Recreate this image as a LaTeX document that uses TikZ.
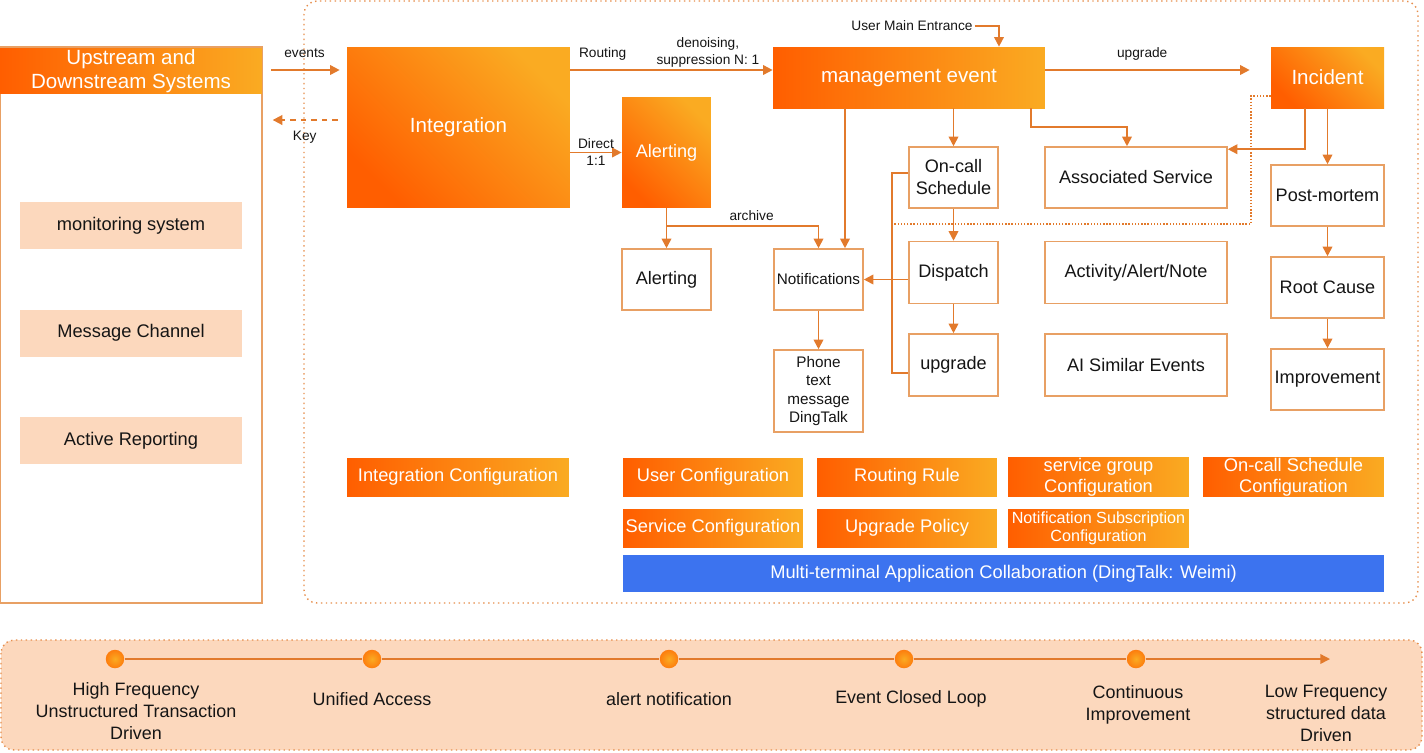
\documentclass[tikz,border=0pt]{standalone}
\usepackage{fontspec}
\setmainfont{Liberation Sans}
\usepackage{tikz}
\usetikzlibrary{arrows.meta, positioning, calc}
\definecolor{hotdark}{HTML}{FF5E00}
\definecolor{hotlight}{HTML}{FAAB22}
\definecolor{linkorange}{HTML}{E27A2C}
\definecolor{edgeorange}{HTML}{E8A064}
\definecolor{peach}{HTML}{FCD8BD}
\definecolor{collabblue}{HTML}{3C73EF}
\definecolor{inkdark}{HTML}{151515}

\begin{document}
\begin{tikzpicture}[
    x=0.02cm, y=-0.02cm,
    hot/.style={
        text=white,
        inner sep=0pt,
        align=center,
        font=\fontsize{11.7}{13.7}\selectfont
    },
    hotdiag/.style={
        hot,
        top color=hotlight,
        bottom color=hotdark,
        shading angle=-45
    },
    hotbar/.style={
        hot,
        left color=hotdark,
        right color=hotlight
    },
    cfg/.style={
        hotbar,
        minimum width=3.6cm,
        minimum height=0.76cm,
        font=\fontsize{10.4}{12}\selectfont
    },
    card/.style={
        draw=edgeorange,
        line width=0.9pt,
        fill=white,
        minimum width=1.78cm,
        minimum height=1.22cm,
        inner sep=1pt,
        align=center,
        text=inkdark,
        font=\fontsize{10.3}{12.5}\selectfont
    },
    feed/.style={
        fill=peach,
        minimum width=4.44cm,
        minimum height=0.94cm,
        text=inkdark,
        font=\fontsize{10.4}{12.5}\selectfont
    },
    lbl/.style={
        inner sep=1pt,
        align=center,
        text=inkdark,
        font=\fontsize{7.8}{9.7}\selectfont
    },
    stage/.style={
        align=center,
        text=inkdark,
        font=\fontsize{10.2}{12.5}\selectfont
    },
    stagedot/.style={
        circle,
        inner sep=0pt,
        minimum size=0.37cm,
        inner color=hotlight,
        outer color=hotdark!60!hotlight
    },
    link/.style={
        draw=linkorange,
        line width=1pt
    },
    arrow/.style={
        link,
        -{Triangle[length=5.5pt, width=5.5pt]}
    },
    zone/.style={
        draw=linkorange!85,
        line width=0.8pt,
        dotted,
        rounded corners=0.26cm
    }
]
\useasboundingbox (0,0) rectangle (1424,752);

% Frames
\draw[zone] (304,1) rectangle (1418,603);
\draw[zone, fill=peach] (1,640) rectangle (1422,750);

% Upstream / downstream column
\node[draw=edgeorange, line width=0.8pt, minimum width=5.24cm, minimum height=11.12cm, inner sep=0pt] (panel) at (131,325) {};
\node[hotbar, minimum width=5.24cm, minimum height=0.9cm] (updown) at (131,71) {Upstream and\\Downstream Systems};
\node[feed] (mon) at (131,225.5) {monitoring system};
\node[feed] (msg) at (131,333) {Message Channel};
\node[feed] (rep) at (131,440.5) {Active Reporting};

% Ingestion
\node[hotdiag, minimum width=4.46cm, minimum height=3.22cm] (integ) at (458.5,127.5) {Integration};
\node[hotdiag, minimum width=1.78cm, minimum height=2.22cm, font=\fontsize{10.3}{12}\selectfont] (alertsrc) at (666.5,152.5) {Alerting};
\node[card] (alertlog) at (666.5,279.5) {Alerting};
\node[card, font=\fontsize{8.7}{10.5}\selectfont] (notif) at (818.5,279.5) {Notifications};
\node[card, minimum height=1.64cm, font=\fontsize{8.7}{10.5}\selectfont] (channels) at (818.5,391) {Phone\\text\\message\\DingTalk};

% Event management
\node[hotbar, minimum width=5.44cm, minimum height=1.22cm] (mgmt) at (909,77.5) {management event};
\node[hotdiag, minimum width=2.26cm, minimum height=1.22cm] (incident) at (1327.5,77.5) {Incident};
\node[card] (oncall) at (953.5,177.5) {On-call\\Schedule};
\node[card, minimum height=1.24cm] (dispatch) at (953.5,272.5) {Dispatch};
\node[card, minimum height=1.24cm] (escal) at (953.5,365) {upgrade};
\node[card, minimum width=3.64cm] (assoc) at (1136,177.5) {Associated Service};
\node[card, minimum width=3.64cm, minimum height=1.24cm] (activity) at (1136,272.5) {Activity/Alert/Note};
\node[card, minimum width=3.64cm, minimum height=1.24cm] (aisim) at (1136,365) {AI Similar Events};

% Incident review
\node[card, minimum width=2.26cm] (postm) at (1327.5,195.5) {Post-mortem};
\node[card, minimum width=2.26cm] (rootc) at (1327.5,287.5) {Root Cause};
\node[card, minimum width=2.26cm] (improve) at (1327.5,379.5) {Improvement};

% Configuration
\node[cfg, minimum width=4.44cm] (cfgint) at (458,477) {Integration Configuration};
\node[cfg] (cfguser) at (713,477) {User Configuration};
\node[cfg] (cfgroute) at (907,477) {Routing Rule};
\node[cfg, minimum width=3.62cm] (cfggroup) at (1098.5,477) {service group\\Configuration};
\node[cfg, minimum width=3.62cm] (cfgsched) at (1293.5,477) {On-call Schedule\\Configuration};
\node[cfg] (cfgsvc) at (713,528) {Service Configuration};
\node[cfg] (cfgpolicy) at (907,528) {Upgrade Policy};
\node[cfg, minimum width=3.62cm, font=\fontsize{9.2}{10.2}\selectfont] (cfgsub) at (1098.5,528) {Notification Subscription\\Configuration};
\node[hot, fill=collabblue, minimum width=15.22cm, minimum height=0.74cm, font=\fontsize{10.4}{12}\selectfont] (collab) at (1003.5,573.5) {Multi-terminal Application Collaboration (DingTalk: Weimi)};

% Timeline
\node[stagedot] (t1) at (115,659) {};
\node[stagedot] (t2) at (372,659) {};
\node[stagedot] (t3) at (669,659) {};
\node[stagedot] (t4) at (904,659) {};
\node[stagedot] (t5) at (1136,659) {};
\coordinate (tend) at (1330,659);
\foreach \a/\b in {t1/t2, t2/t3, t3/t4, t4/t5} {
    \draw[link, line width=0.8pt] (\a) -- (\b);
}
\draw[arrow, line width=0.8pt] (t5) -- (tend);

\node[stage] (s1) at (136,711) {High Frequency\\Unstructured Transaction\\Driven};
\node[stage] (s2) at (372,699) {Unified Access};
\node[stage] (s3) at (669,699) {alert notification};
\node[stage] (s4) at (911,699) {Event Closed Loop};
\node[stage] (s5) at (1138,705) {Continuous\\Improvement};
\node[stage] (s6) at (1326,713) {Low Frequency\\structured data\\Driven};

% Connectors
\coordinate (mgmtin) at ([yshift=0.15cm]mgmt.west);
\coordinate (keyout) at ([yshift=0.15cm]integ.west);
\coordinate (notifin) at ([xshift=0.53cm]notif.north);
\coordinate (brk) at ([xshift=-0.32cm]oncall.west);
\coordinate (brktop) at ([yshift=0.09cm]oncall.west);
\coordinate (fold) at (1251,224);

\draw[arrow, shorten <=0.18cm, shorten >=0.14cm] (updown.east |- mgmtin) -- (integ.west |- mgmtin)
    node[lbl, midway, above=0.19cm] (lblevents) {events};
\draw[arrow, dashed, shorten <=0.18cm, shorten >=0.2cm] (keyout) -- (keyout -| panel.east)
    node[lbl, midway, below=0.16cm] (lblkey) {Key};

\draw[arrow] (integ.east |- mgmtin) -- (mgmtin)
    node[lbl, pos=0.16, above=0.15cm] (lblrouting) {Routing}
    node[lbl, pos=0.68, above=0cm] (lbldenoise) {denoising,\\suppression N: 1};
\draw[arrow] (integ.east |- alertsrc.west) -- (alertsrc.west)
    node[lbl, midway] (lbldirect) {Direct\\1:1};

\draw[arrow] (alertsrc.south) -- (alertlog.north);
\draw[arrow] (alertsrc.south) -- ++(0,18) -| (notif.north)
    node[lbl, pos=0.28, above=0.07cm] (lblarchive) {archive};
\draw[arrow] (notif) -- (channels);

\node[lbl] (entry) at (912,26) {User Main Entrance};
\draw[arrow] (entry.east) -| ([xshift=1.8cm]mgmt.north);

\draw[arrow, shorten >=0.42cm] (mgmt.east |- mgmtin) -- (incident.west |- mgmtin)
    node[lbl, pos=0.43, above=0.15cm] (lblupgrade) {upgrade};
\draw[arrow] (mgmt.south -| notifin) -- (notifin);
\draw[arrow] (mgmt.south -| oncall.north) -- (oncall.north);
\draw[arrow] ([xshift=-0.28cm]mgmt.south east) -- ++(0,19) -| ([xshift=-0.18cm]assoc.north);

\draw[arrow] (oncall) -- (dispatch);
\draw[arrow] (dispatch) -- (escal);
\draw[arrow] (dispatch.west |- notif.east) -- (notif.east);
\draw[link] (brktop) -- (brk |- brktop) |- ([yshift=-0.16cm]escal.west);

\draw[arrow] ([xshift=-0.45cm]incident.south) |- ([yshift=-0.06cm]assoc.north east);
\draw[arrow] (incident.south) -- (postm.north);
\draw[arrow] (postm) -- (rootc);
\draw[arrow] (rootc) -- (improve);
\draw[link, line width=0.8pt, densely dotted] ([yshift=-0.37cm]incident.west) -| (fold) -- (fold -| brk);

\end{tikzpicture}
\end{document}
